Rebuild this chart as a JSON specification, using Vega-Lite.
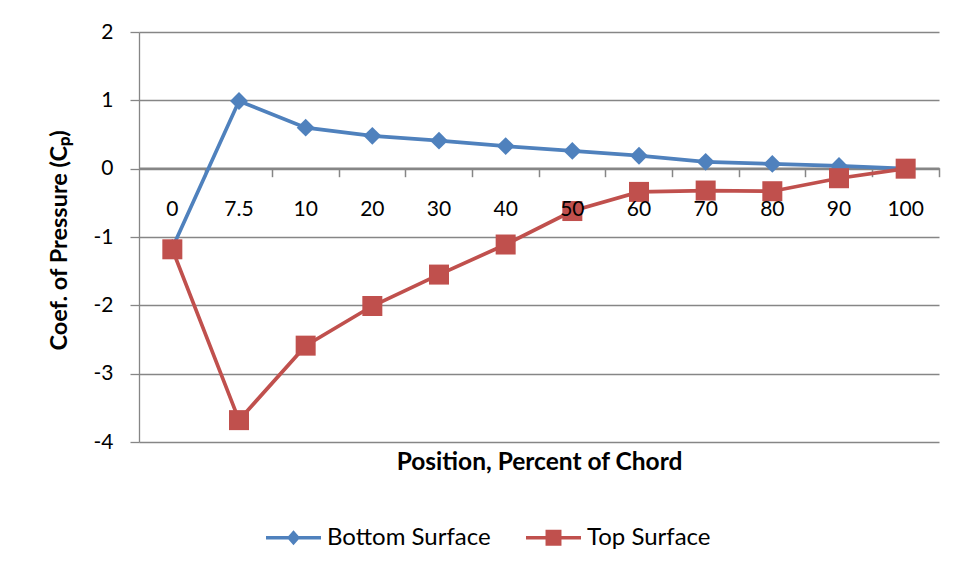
{
  "$schema": "https://vega.github.io/schema/vega-lite/v6.json",
  "width": 800,
  "height": 410,
  "autosize": {"type": "none"},
  "padding": {"left": 139, "top": 32, "right": 30, "bottom": 137},
  "background": "white",
  "config": {
    "font": "Lato",
    "view": {"stroke": null},
    "axis": {
      "labelColor": "black",
      "titleColor": "black",
      "domainColor": "#868686",
      "tickColor": "#868686",
      "gridColor": "#868686",
      "labelFont": "Lato",
      "titleFont": "Lato"
    },
    "axisY": {
      "tickCount": 6,
      "grid": true,
      "gridWidth": 1.3,
      "domainWidth": 1.3,
      "tickSize": 9,
      "tickWidth": 1.3,
      "labelFontSize": 21,
      "labelPadding": 17,
      "labelExpr": "datum.value < 0 ? '-' + abs(datum.value) : '' + datum.value",
      "titleFontSize": 23.5,
      "titleFontWeight": "bold",
      "titleAngle": -90,
      "titleAlign": "center",
      "titleBaseline": "middle",
      "titleX": -80,
      "titleY": 208,
      "zindex": 0
    },
    "legend": {
      "labelFont": "Lato",
      "labelColor": "black",
      "labelLimit": 0
    }
  },
  "data": {
    "values": [
      {"position": "0", "series": "Bottom Surface", "cp": -1.16},
      {"position": "7.5", "series": "Bottom Surface", "cp": 0.99},
      {"position": "10", "series": "Bottom Surface", "cp": 0.6},
      {"position": "20", "series": "Bottom Surface", "cp": 0.48},
      {"position": "30", "series": "Bottom Surface", "cp": 0.41},
      {"position": "40", "series": "Bottom Surface", "cp": 0.33},
      {"position": "50", "series": "Bottom Surface", "cp": 0.26},
      {"position": "60", "series": "Bottom Surface", "cp": 0.19},
      {"position": "70", "series": "Bottom Surface", "cp": 0.1},
      {"position": "80", "series": "Bottom Surface", "cp": 0.07},
      {"position": "90", "series": "Bottom Surface", "cp": 0.04},
      {"position": "100", "series": "Bottom Surface", "cp": 0.0},
      {"position": "0", "series": "Top Surface", "cp": -1.18},
      {"position": "7.5", "series": "Top Surface", "cp": -3.68},
      {"position": "10", "series": "Top Surface", "cp": -2.59},
      {"position": "20", "series": "Top Surface", "cp": -2.01},
      {"position": "30", "series": "Top Surface", "cp": -1.55},
      {"position": "40", "series": "Top Surface", "cp": -1.11},
      {"position": "50", "series": "Top Surface", "cp": -0.62},
      {"position": "60", "series": "Top Surface", "cp": -0.34},
      {"position": "70", "series": "Top Surface", "cp": -0.32},
      {"position": "80", "series": "Top Surface", "cp": -0.33},
      {"position": "90", "series": "Top Surface", "cp": -0.14},
      {"position": "100", "series": "Top Surface", "cp": 0.0}
    ]
  },
  "resolve": {"axis": {"x": "independent"}},
  "layer": [
    {
      "mark": {"type": "line", "strokeWidth": 3.7},
      "encoding": {
        "x": {
          "field": "position",
          "type": "ordinal",
          "sort": null,
          "scale": {"type": "band", "paddingInner": 0, "paddingOuter": 0},
          "axis": {
            "orient": "bottom",
            "offset": -274.3,
            "ticks": false,
            "domain": false,
            "grid": false,
            "labelAngle": 0,
            "labelFontSize": 21,
            "labelPadding": 42,
            "labelBaseline": "middle",
            "title": null,
            "zindex": 2
          }
        },
        "y": {
          "field": "cp",
          "type": "quantitative",
          "scale": {"domain": [-4, 2], "nice": false, "zero": false},
          "axis": {"title": "Coef. of Pressure (Cₚ)"}
        },
        "color": {
          "field": "series",
          "type": "nominal",
          "scale": {"range": ["#4F81BD", "#C0504D"]},
          "legend": null
        }
      }
    },
    {
      "mark": {"type": "point", "filled": true, "opacity": 1},
      "encoding": {
        "x": {
          "field": "position",
          "type": "ordinal",
          "sort": null,
          "scale": {"type": "band", "paddingInner": 0, "paddingOuter": 0},
          "axis": {
            "orient": "bottom",
            "offset": -274.3,
            "labels": false,
            "ticks": true,
            "tickSize": 9,
            "tickWidth": 1.5,
            "bandPosition": 1,
            "domain": true,
            "domainWidth": 1.5,
            "grid": false,
            "title": "Position, Percent of Chord",
            "titleFontSize": 24.5,
            "titleFontWeight": "bold",
            "titleBaseline": "middle",
            "titleY": 295,
            "zindex": 0
          }
        },
        "y": {"field": "cp", "type": "quantitative", "axis": {"title": "Coef. of Pressure (Cₚ)"}},
        "color": {"field": "series", "type": "nominal", "legend": null},
        "shape": {
          "condition": {"test": "datum.series === 'Top Surface'", "value": "square"},
          "value": "diamond"
        },
        "size": {
          "condition": {"test": "datum.series === 'Top Surface'", "value": 400},
          "value": 320
        }
      }
    },
    {
      "mark": {"type": "point", "filled": true, "opacity": 0},
      "encoding": {
        "x": {
          "field": "position",
          "type": "ordinal",
          "sort": null,
          "scale": {"type": "band", "paddingInner": 0, "paddingOuter": 0},
          "axis": null
        },
        "y": {"field": "cp", "type": "quantitative", "axis": {"title": "Coef. of Pressure (Cₚ)"}},
        "fill": {
          "field": "series",
          "type": "nominal",
          "scale": {"domain": ["Bottom Surface", "Top Surface"], "range": ["#4F81BD", "#C0504D"]},
          "legend": {
            "title": null,
            "orient": "none",
            "direction": "horizontal",
            "legendX": 127,
            "legendY": 478,
            "padding": 0,
            "symbolSize": 3025,
            "symbolOpacity": 1,
            "symbolStrokeWidth": 0,
            "labelFontSize": 24,
            "labelOffset": 6,
            "labelLimit": 0,
            "columnPadding": 35
          }
        },
        "shape": {
          "field": "series",
          "type": "nominal",
          "scale": {
            "domain": ["Bottom Surface", "Top Surface"],
            "range": [
              "M-1,-0.065H1V0.065H-1Z M-0.24,0L0,-0.27L0.24,0L0,0.27Z",
              "M-1,-0.065H1V0.065H-1Z M-0.29,-0.29H0.29V0.29H-0.29Z"
            ]
          },
          "legend": {
            "title": null,
            "orient": "none",
            "direction": "horizontal",
            "legendX": 127,
            "legendY": 478,
            "padding": 0,
            "symbolSize": 3025,
            "symbolOpacity": 1,
            "symbolStrokeWidth": 0,
            "labelFontSize": 24,
            "labelOffset": 6,
            "labelLimit": 0,
            "columnPadding": 35
          }
        }
      }
    }
  ]
}
